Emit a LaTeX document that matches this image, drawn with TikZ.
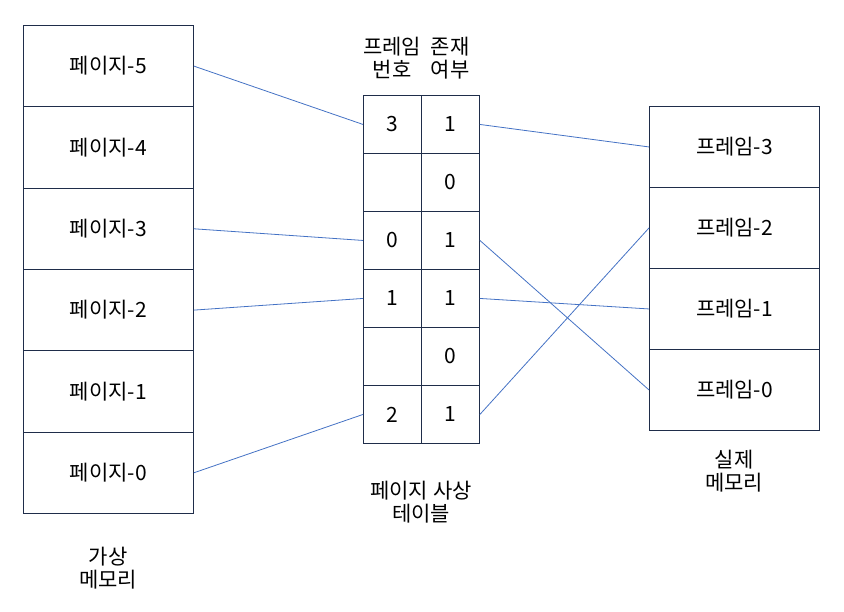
\documentclass[tikz,border=0pt]{standalone}
\usepackage{fontspec}
\setmainfont{Noto Sans CJK KR}
\begin{document}
\begin{tikzpicture}[x=1pt,y=-1pt,
  every node/.style={font=\fontsize{21}{23.5}\selectfont, text=black},
  cell/.style={draw=boxc, line width=0.9pt, rectangle, inner sep=0pt, anchor=north west},
  pagebox/.style={cell, minimum width=170pt, minimum height=81.33pt},
  tcell/.style={cell, minimum width=58pt, minimum height=58pt},
  framebox/.style={cell, minimum width=170pt, minimum height=81pt},
  link/.style={draw=linkc, line width=0.8pt},
  lbl/.style={align=center, inner sep=0pt}]
\definecolor{boxc}{HTML}{1F2D4A}
\definecolor{linkc}{HTML}{4472C4}
\useasboundingbox (0,0) rectangle (844,612);
% virtual memory
\node[pagebox] (p5) at (23,25) {페이지-5};
\node[pagebox] (p4) at (23,106.33) {페이지-4};
\node[pagebox] (p3) at (23,187.67) {페이지-3};
\node[pagebox] (p2) at (23,269) {페이지-2};
\node[pagebox] (p1) at (23,350.33) {페이지-1};
\node[pagebox] (p0) at (23,431.67) {페이지-0};
% table
\node[tcell] (f1) at (363,95) {3};
\node[tcell] (e1) at (421,95) {1};
\node[tcell] (f2) at (363,153) {};
\node[tcell] (e2) at (421,153) {0};
\node[tcell] (f3) at (363,211) {0};
\node[tcell] (e3) at (421,211) {1};
\node[tcell] (f4) at (363,269) {1};
\node[tcell] (e4) at (421,269) {1};
\node[tcell] (f5) at (363,327) {};
\node[tcell] (e5) at (421,327) {0};
\node[tcell] (f6) at (363,385) {2};
\node[tcell] (e6) at (421,385) {1};
% physical memory
\node[framebox] (r3) at (649,106) {프레임-3};
\node[framebox] (r2) at (649,187) {프레임-2};
\node[framebox] (r1) at (649,268) {프레임-1};
\node[framebox] (r0) at (649,349) {프레임-0};
% labels
\node[lbl] (h1) at (392,58) {프레임\\번호};
\node[lbl] (h2) at (450,58) {존재\\여부};
\node[lbl] (tl) at (421,502) {페이지 사상\\테이블};
\node[lbl] (pl) at (734,471) {실제\\메모리};
\node[lbl] (vl) at (108,568) {가상\\메모리};
% links
\draw[link] (p5.east) -- (f1.west);
\draw[link] (p3.east) -- (f3.west);
\draw[link] (p2.east) -- (f4.west);
\draw[link] (p0.east) -- (f6.west);
\draw[link] (e1.east) -- (r3.west);
\draw[link] (e3.east) -- (r0.west);
\draw[link] (e4.east) -- (r1.west);
\draw[link] (e6.east) -- (r2.west);
\end{tikzpicture}
\end{document}
